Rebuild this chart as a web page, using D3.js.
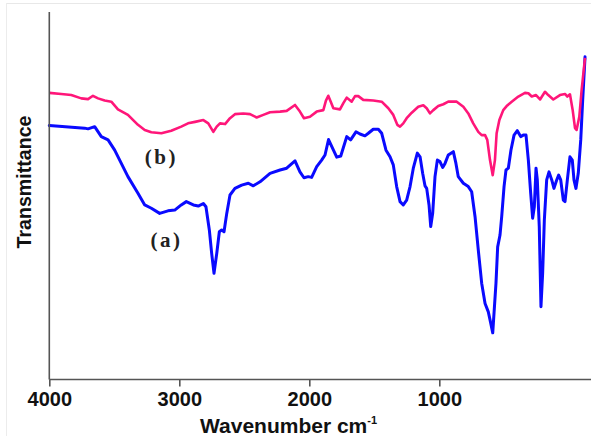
<!DOCTYPE html>
<html>
<head>
<meta charset="utf-8">
<style>
  body { margin: 0; background: #fff; }
  svg { display: block; }
  .tick text { font-family: "Liberation Sans", Arial, sans-serif; font-weight: bold; font-size: 20px; fill: #111; }
  .lbl { font-family: "Liberation Serif", "Times New Roman", serif; font-weight: bold; font-size: 21px; letter-spacing: 2.5px; fill: #222; }
  .title { font-family: "Liberation Sans", Arial, sans-serif; font-weight: bold; fill: #111; }
</style>
</head>
<body>
<svg width="591" height="436"></svg>
<script src="https://cdnjs.cloudflare.com/ajax/libs/d3/7.8.5/d3.min.js"></script>
<script>
// wavenumber (cm-1) and transmittance (arbitrary %)
let waveA = [4000, 3728, 3702, 3651, 3600, 3548, 3497, 3395, 3318, 3266, 3215, 3151, 3087, 3035, 2985, 2946,
  2892, 2854, 2815, 2795, 2769, 2751, 2733, 2712, 2692, 2674, 2656, 2635, 2610, 2572, 2520, 2469, 2431,
  2379, 2302, 2225, 2174, 2110, 2072, 2041, 2008, 1982, 1943, 1905, 1879, 1852, 1789, 1758, 1712, 1682,
  1641, 1610, 1572, 1546, 1508, 1469, 1443, 1410, 1379, 1354, 1328, 1302, 1277, 1251, 1225, 1200, 1169,
  1148, 1128, 1110, 1097, 1079, 1066, 1051, 1033, 1015, 995, 974, 956, 931, 892, 872, 854, 815, 777, 751,
  725, 700, 674, 648, 623, 606, 589, 564, 551, 533, 520, 502, 487, 469, 449, 425, 400, 374, 354, 333, 315,
  297, 282, 269, 256, 246, 231, 218, 205, 192, 174, 156, 135, 118, 97, 82, 66, 46, 33, 15, -5, -23, -36,
  -51, -69, -88, -103, -121]
let transA = [69.1, 68.4, 68.2, 68.8, 66.1, 65.2, 62.4, 55.2, 50.7, 47.5, 46.6, 45.2, 45.9, 46.1, 47.5, 48.4,
  47.5, 47.2, 47.9, 47.0, 40.7, 34.3, 28.9, 34.3, 40.2, 40.7, 40.2, 45.2, 50.2, 52.0, 52.9, 53.4, 52.7,
  53.8, 56.1, 57.0, 57.5, 59.5, 56.5, 54.9, 55.2, 55.0, 57.9, 59.7, 61.1, 65.3, 60.5, 60.8, 66.1, 65.2,
  67.4, 66.8, 66.3, 67.0, 68.1, 68.1, 67.0, 62.4, 60.6, 58.4, 52.5, 48.4, 47.5, 48.8, 52.5, 57.5, 61.6,
  60.6, 56.1, 52.7, 52.0, 47.5, 41.6, 45.2, 55.2, 59.7, 59.3, 57.7, 58.8, 61.1, 62.0, 58.8, 55.2, 53.4,
  52.5, 51.1, 44.3, 35.2, 26.2, 20.7, 18.4, 15.6, 12.7, 26.2, 36.1, 39.3, 44.3, 52.5, 57.0, 57.5, 62.4,
  66.5, 67.7, 66.1, 66.5, 66.5, 59.7, 50.7, 43.9, 47.0, 57.5, 54.3, 41.6, 19.8, 28.9, 43.4, 54.3, 56.5,
  54.3, 52.0, 54.3, 55.6, 54.3, 48.8, 48.4, 54.3, 60.6, 59.7, 54.3, 52.0, 56.1, 65.2, 76.1, 87.8]

let waveB = [4000, 3908, 3831, 3754, 3702, 3664, 3625, 3574, 3523, 3472, 3395, 3318, 3266, 3215, 3138, 3062,
  2985, 2933, 2879, 2815, 2777, 2738, 2712, 2687, 2648, 2610, 2572, 2508, 2456, 2405, 2354, 2302, 2225,
  2174, 2110, 2072, 2041, 1995, 1943, 1892, 1872, 1854, 1835, 1815, 1764, 1738, 1712, 1692, 1674, 1648,
  1623, 1585, 1508, 1443, 1392, 1354, 1323, 1302, 1277, 1251, 1212, 1162, 1123, 1097, 1072, 1046, 1008,
  969, 931, 866, 815, 777, 739, 700, 674, 648, 631, 610, 589, 572, 559, 538, 508, 482, 443, 392, 341, 315,
  289, 256, 225, 187, 162, 123, 72, 33, 15, -5, -26, -44, -56, -77, -95, -121]
let transB = [78.0, 77.7, 77.4, 76.5, 76.3, 77.2, 76.5, 75.9, 75.6, 73.5, 72.0, 69.3, 67.9, 67.3, 67.0, 67.7,
  68.8, 69.7, 70.1, 70.6, 69.7, 67.4, 68.8, 69.7, 69.5, 71.1, 72.2, 72.4, 72.2, 71.3, 72.0, 72.7, 72.9,
  73.1, 74.7, 72.9, 71.1, 71.5, 72.9, 73.3, 75.9, 77.2, 75.6, 73.8, 73.5, 75.2, 76.7, 76.1, 75.6, 77.1,
  77.1, 76.1, 75.9, 75.6, 73.8, 72.0, 69.3, 68.8, 69.7, 71.1, 72.6, 74.2, 74.6, 73.8, 72.4, 73.3, 74.4,
  74.9, 75.6, 75.6, 74.2, 72.4, 69.7, 67.4, 66.5, 66.5, 65.2, 59.7, 55.6, 59.7, 67.0, 70.6, 73.3, 74.4,
  75.6, 77.0, 78.0, 77.9, 77.0, 77.4, 76.2, 78.3, 77.4, 76.2, 77.4, 77.7, 77.0, 77.6, 73.3, 68.4, 67.9,
  71.5, 78.8, 87.5]

let xTicks = [4000, 3000, 2000, 1000]

let svg = d3.select("svg")

// faint frame of the original figure
svg.append("line").attr("x1", 6).attr("x2", 591).attr("y1", 3.5).attr("y2", 3.5)
  .style("stroke", "#e8e8e8").style("stroke-width", 1)
svg.append("line").attr("x1", 6.5).attr("x2", 6.5).attr("y1", 3).attr("y2", 436)
  .style("stroke", "#ececec").style("stroke-width", 1)

let x = d3.scaleLinear()
  .domain([4000, 0])
  .range([49.3, 569.3])

let y = d3.scaleLinear()
  .domain([0, 100])
  .range([379.5, 12])

let line = d3.line()
  .x(d => x(d[0]))
  .y(d => y(d[1]))

let seriesA = waveA.map((w, i) => [w, transA[i]])
let seriesB = waveB.map((w, i) => [w, transB[i]])

svg.append("path")
  .datum(seriesA)
  .attr("d", line)
  .style("fill", "none")
  .style("stroke", "#0a0aff")
  .style("stroke-width", 3)
  .style("stroke-linejoin", "round")
  .style("stroke-linecap", "round")

svg.append("path")
  .datum(seriesB)
  .attr("d", line)
  .style("fill", "none")
  .style("stroke", "#ff1679")
  .style("stroke-width", 2.6)
  .style("stroke-linejoin", "round")

// axes
let xAxis = d3.axisBottom(x)
  .tickValues(xTicks)
  .tickSize(7)
  .tickPadding(5)
  .tickFormat(d3.format("d"))

let gx = svg.append("g")
  .attr("transform", "translate(0," + y(0) + ")")
  .call(xAxis)
gx.select(".domain").remove()
gx.selectAll(".tick line").style("stroke", "#555").style("stroke-width", 1.6)

svg.append("line")
  .attr("x1", x(4000)).attr("x2", 591)
  .attr("y1", y(0)).attr("y2", y(0))
  .style("stroke", "#555").style("stroke-width", 1.6)

svg.append("line")
  .attr("x1", x(4000)).attr("x2", x(4000))
  .attr("y1", y(100)).attr("y2", y(0))
  .style("stroke", "#555").style("stroke-width", 1.6)

// curve labels
svg.append("text").attr("class", "lbl")
  .attr("x", x(3150) + 1.5).attr("y", 164)
  .attr("text-anchor", "middle")
  .text("(b)")

svg.append("text").attr("class", "lbl")
  .attr("x", x(3110) + 1.5).attr("y", 247)
  .attr("text-anchor", "middle")
  .text("(a)")

// axis titles
let xt = svg.append("text").attr("class", "title")
  .attr("x", 200).attr("y", 433)
  .style("font-size", "21px")
xt.append("tspan").text("Wavenumber cm")
xt.append("tspan").text("-1").style("font-size", "11px").attr("dy", -9)

svg.append("text").attr("class", "title")
  .attr("transform", "translate(31,182) rotate(-90)")
  .attr("text-anchor", "middle")
  .attr("textLength", 133)
  .attr("lengthAdjust", "spacingAndGlyphs")
  .style("font-size", "21px")
  .text("Transmittance")
</script>
</body>
</html>
